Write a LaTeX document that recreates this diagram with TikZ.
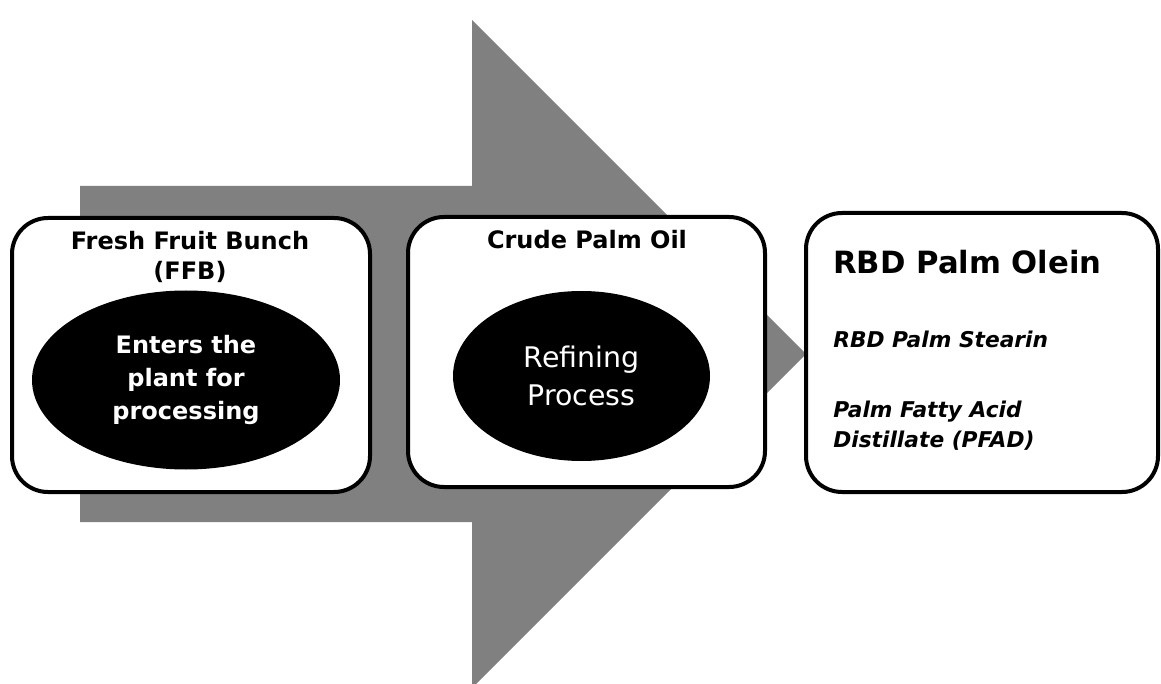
\documentclass[tikz,border=0pt]{standalone}
\usepackage{fontspec}
\setmainfont{DejaVu Sans}
\usepackage{tikz}
\usetikzlibrary{shapes.geometric}
\tikzset{
  pbarrow/.style={fill=black!50, draw=none},
  pbbox/.style={draw=black, line width=3pt, fill=white, rounded corners=27pt, inner sep=0pt},
  pboval/.style={ellipse, fill=black, draw=none, text=white, align=center, inner sep=0pt},
  pbhead/.style={font=\fontsize{18}{23}\selectfont\bfseries, align=center, inner sep=0pt},
  pbmain/.style={font=\fontsize{23}{28}\selectfont\bfseries, align=left, inner sep=0pt},
  pbside/.style={font=\fontsize{16.3}{22.5}\selectfont\bfseries\itshape, align=left, inner sep=0pt},
}

\begin{document}
\begin{tikzpicture}[x=0.75pt, y=-0.75pt]
\useasboundingbox (0,0) rectangle (1161,684);
\fill[pbarrow] (80,186) -- (472,186) -- (472,20) -- (806,354) -- (472,688) -- (472,522) -- (80,522) -- cycle;
\node[pbbox, minimum width=268.5pt, minimum height=205.5pt] (ffbbox) at (191,355) {};
\node[pbbox, minimum width=267.75pt, minimum height=202.5pt] (cpobox) at (586.5,352) {};
\node[pbbox, minimum width=264pt, minimum height=209.25pt] (rbdbox) at (982,352.5) {};
\node[pbhead, anchor=base] (ffbtitle) at (190,280) {Fresh Fruit Bunch\\(FFB)};
\node[pbhead, anchor=base] (cpotitle) at (587,249) {Crude Palm Oil};
\node[pboval, minimum width=231pt, minimum height=134.25pt, font=\fontsize{18}{24.75}\selectfont\bfseries] (enters) at (186,380) {Enters the\\plant for\\processing};
\node[pboval, minimum width=192.75pt, minimum height=127.5pt, font=\fontsize{21.3}{29}\selectfont] (refine) at (581.5,376) {Refining\\Process};
\node[pbmain, anchor=base west] (olein) at (833,274) {RBD Palm Olein};
\node[pbside, anchor=base west] (stearin) at (833,348) {RBD Palm Stearin};
\node[pbside, anchor=base west] (pfad) at (833,447) {Palm Fatty Acid\\Distillate (PFAD)};
\end{tikzpicture}
\end{document}
